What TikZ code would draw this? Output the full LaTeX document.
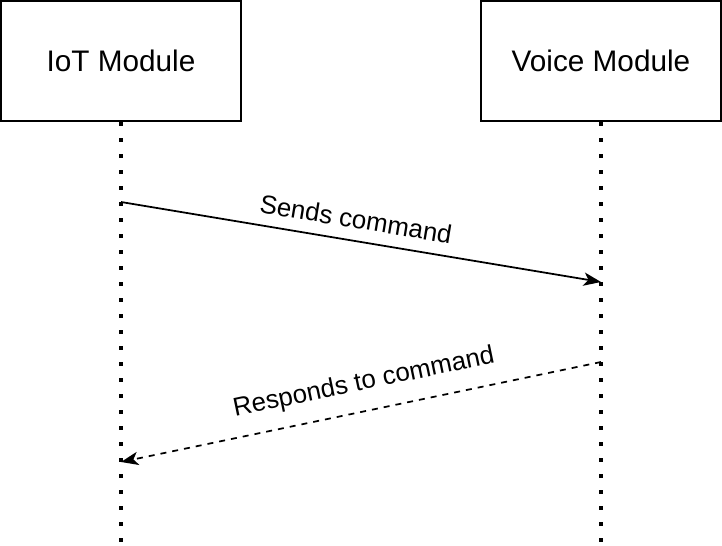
\documentclass[tikz,border=0pt]{standalone}
\usepackage{fontspec}
\setmainfont{Liberation Sans}
\usetikzlibrary{arrows.meta}
\begin{document}
\begin{tikzpicture}[x=0.75pt,y=-0.75pt,
  module/.style={draw,line width=1.5pt,minimum width=180pt,minimum height=90pt,inner sep=0pt,font=\fontsize{22.3pt}{25pt}\selectfont},
  lifeline/.style={line width=3pt,dash pattern=on 3pt off 9pt},
  msg/.style={line width=1.3pt,-{Stealth[length=13pt,width=10pt,inset=3.5pt]}},
  reply/.style={msg,dash pattern=on 4.5pt off 4.5pt},
  lbl/.style={inner sep=0pt,font=\fontsize{19.4pt}{22pt}\selectfont}]
\useasboundingbox (0,0) rectangle (722,546);
\node[module] (iot) at (121,61) {IoT Module};
\node[module] (voice) at (601,61) {Voice Module};
\coordinate (iotend) at (121,546);
\coordinate (voiceend) at (601,546);
\draw[lifeline] (iot.south) -- (iotend);
\draw[lifeline] (voice.south) -- (voiceend);
\coordinate (a1s) at (121,202);
\coordinate (a1e) at (601,282);
\coordinate (a2s) at (601,362);
\coordinate (a2e) at (121,462);
\draw[msg] (a1s) -- (a1e);
\draw[reply] (a2s) -- (a2e);
\node[lbl,rotate=-9.46] (l1) at (356,219) {Sends command};
\node[lbl,rotate=11.77] (l2) at (364,383) {Responds to command};
\end{tikzpicture}
\end{document}
